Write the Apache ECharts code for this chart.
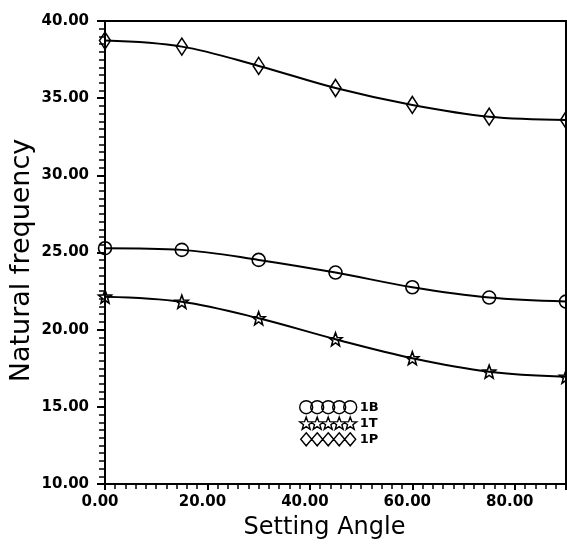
<!DOCTYPE html>
<html>
<head>
<meta charset="utf-8">
<script src="https://cdn.jsdelivr.net/npm/echarts@6/dist/echarts.min.js"></script>
<style>html,body{margin:0;padding:0;background:#fff}#c{width:567px;height:545px}</style>
</head>
<body>
<div id="c"></div>
<script>
var xValues = [0, 15, 30, 45, 60, 75, 90];
var series1B = [25.28, 25.17, 24.52, 23.70, 22.75, 22.08, 21.82];
var series1T = [22.14, 21.81, 20.74, 19.38, 18.15, 17.28, 16.95];
var series1P = [38.73, 38.34, 37.09, 35.66, 34.56, 33.80, 33.59];
var seriesNames = ['1B', '1T', '1P'];

function pairs(ys) { return xValues.map(function (x, i) { return [x, ys[i]]; }); }

function starPath(cx, cy, R, r) {
  var s = '';
  for (var k = 0; k < 10; k++) {
    var ang = -Math.PI / 2 + k * Math.PI / 5;
    var rad = k % 2 === 0 ? R : r;
    s += (k === 0 ? 'M' : 'L') + (cx + rad * Math.cos(ang)).toFixed(2) + ',' + (cy + rad * Math.sin(ang)).toFixed(2) + ' ';
  }
  return s + 'Z ';
}
function circlePath(cx, cy, r) {
  return 'M' + (cx - r) + ',' + cy + ' A' + r + ',' + r + ' 0 1 1 ' + (cx + r) + ',' + cy +
    ' A' + r + ',' + r + ' 0 1 1 ' + (cx - r) + ',' + cy + ' Z ';
}
function diamondPath(cx, cy, w, h) {
  return 'M' + cx + ',' + (cy - h / 2) + ' L' + (cx + w / 2) + ',' + cy + ' L' + cx + ',' + (cy + h / 2) + ' L' + (cx - w / 2) + ',' + cy + ' Z ';
}
var rowC = '', rowS = '', rowD = '';
for (var k = 0; k < 5; k++) {
  var cx = 6.5 + 11 * k;
  rowC += circlePath(cx, 6.5, 6.5);
  rowS += starPath(cx, 6.5, 6.8, 2.8);
  rowD += diamondPath(cx, 6.5, 11, 13);
}
var starSymbol = 'path://' + starPath(10, 10, 10, 4.2);

var chart = echarts.init(document.getElementById('c'), null, { renderer: 'canvas' });
var lbl = { color: '#000', fontFamily: 'DejaVu Sans', fontWeight: 'bold', fontSize: 15 };
var common = {
  type: 'line', smooth: 0.35, showSymbol: true,
  lineStyle: { color: '#000', width: 2 },
  itemStyle: { color: 'rgba(255,255,255,0)', borderColor: '#000', borderWidth: 1.6 },
  emphasis: { disabled: true }, animation: false, z: 3
};
chart.setOption({
  backgroundColor: '#fff',
  animation: false,
  grid: { left: 105, right: 1, top: 21, bottom: 61, outerBoundsMode: 'none', containLabel: false, show: true, borderColor: '#000', borderWidth: 2, backgroundColor: 'transparent' },
  legend: {
    orient: 'vertical', left: 294, top: 395, itemGap: 2,
    itemWidth: 57, itemHeight: 13,
    textStyle: { color: '#000', fontFamily: 'DejaVu Sans', fontWeight: 'bold', fontSize: 13, padding: [0, 0, 0, -2] },
    itemStyle: { color: 'rgba(255,255,255,0)', borderColor: '#000', borderWidth: 1.4 },
    data: [
      { name: seriesNames[0], icon: 'path://' + rowC },
      { name: seriesNames[1], icon: 'path://' + rowS },
      { name: seriesNames[2], icon: 'path://' + rowD }
    ]
  },
  xAxis: {
    type: 'value', min: 0, max: 90, interval: 20,
    name: 'Setting Angle', nameLocation: 'middle', nameGap: 32, nameMoveOverlap: false,
    nameTextStyle: { color: '#000', fontFamily: 'DejaVu Sans', fontSize: 24, padding: [0, 22, 0, 0] },
    axisLine: { show: true, lineStyle: { color: '#000', width: 2 } },
    axisTick: { show: true, inside: false, length: 6, lineStyle: { color: '#000', width: 2 } },
    minorTick: { show: true, splitNumber: 10, length: 5, lineStyle: { color: '#000', width: 1.5 } },
    axisLabel: Object.assign({ margin: 11, showMaxLabel: false, padding: [0, 10, 0, 0], formatter: function (v) { return v.toFixed(2); } }, lbl),
    splitLine: { show: false }
  },
  yAxis: {
    type: 'value', min: 10, max: 40, interval: 5,
    name: 'Natural frequency', nameLocation: 'middle', nameGap: 70, nameRotate: 90, nameMoveOverlap: false,
    nameTextStyle: { color: '#000', fontFamily: 'DejaVu Sans', fontSize: 27, padding: [0, 16, 0, 0] },
    axisLine: { show: true, lineStyle: { color: '#000', width: 2 } },
    axisTick: { show: true, inside: false, length: 8, lineStyle: { color: '#000', width: 2 } },
    minorTick: { show: true, splitNumber: 10, length: 6, lineStyle: { color: '#000', width: 1.5 } },
    axisLabel: Object.assign({ margin: 16, formatter: function (v) { return v.toFixed(2); } }, lbl),
    splitLine: { show: false }
  },
  series: [
    Object.assign({}, common, { name: seriesNames[0], data: pairs(series1B), symbol: 'circle', symbolSize: 13 }),
    Object.assign({}, common, { name: seriesNames[1], data: pairs(series1T), symbol: starSymbol, symbolSize: 13 }),
    Object.assign({}, common, { name: seriesNames[2], data: pairs(series1P), symbol: 'diamond', symbolSize: [11, 17] })
  ]
});
</script>
</body>
</html>
